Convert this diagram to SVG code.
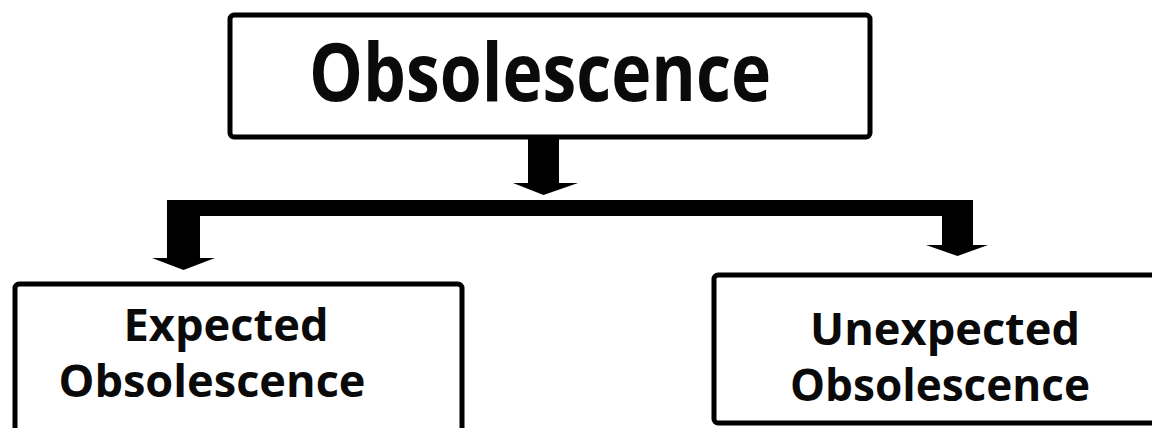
<svg xmlns="http://www.w3.org/2000/svg" width="1152" height="428" viewBox="0 0 1152 428">
<style>
.box{fill:#fff;stroke:#000;stroke-width:5}
.t{font-family:"Open Sans","Noto Sans","DejaVu Sans",sans-serif;font-weight:bold;fill:#0a0a0a;text-anchor:middle}
.big{font-size:80px}
.sm{font-size:44px}
.conn{fill:#000}
</style>
<rect width="1152" height="428" fill="#fff"/>
<g id="node-top">
<rect class="box" x="230" y="15" width="640" height="122" rx="4"/>
<text class="t big" x="540" y="101" textLength="462" lengthAdjust="spacingAndGlyphs">Obsolescence</text>
</g>
<g id="node-expected">
<rect class="box" x="15" y="284" width="447" height="170" rx="4"/>
<text class="t sm" x="226" y="341" textLength="205" lengthAdjust="spacingAndGlyphs">Expected</text>
<text class="t sm" x="212" y="397" textLength="307" lengthAdjust="spacingAndGlyphs">Obsolescence</text>
</g>
<g id="node-unexpected">
<rect class="box" x="714" y="275" width="450" height="148" rx="4"/>
<text class="t sm" x="945" y="345" textLength="270" lengthAdjust="spacingAndGlyphs">Unexpected</text>
<text class="t sm" x="940" y="401" textLength="300" lengthAdjust="spacingAndGlyphs">Obsolescence</text>
</g>
<g id="connectors">
<rect class="conn" x="528" y="137" width="31" height="47"/>
<polygon class="conn" points="513,183 578,183 543.5,195"/>
<path class="conn" d="M167,200 H973 V246 H942 V216 H200 V259 H167 Z"/>
<polygon class="conn" points="152,258 215,258 183.5,270"/>
<polygon class="conn" points="926,245 988,245 957.5,256"/>
</g>
</svg>
